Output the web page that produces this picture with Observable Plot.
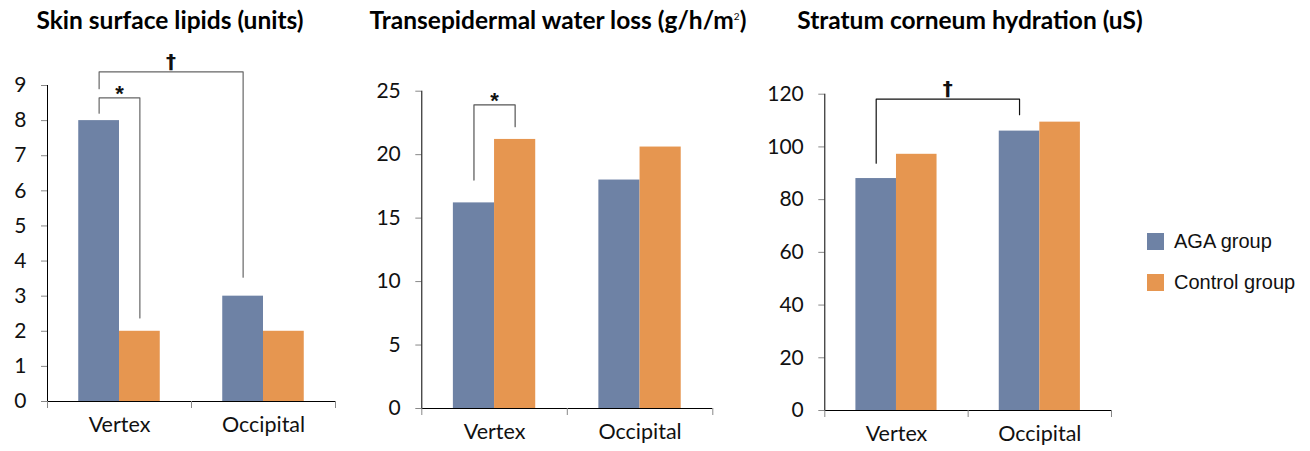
<!DOCTYPE html>
<html><head><meta charset="utf-8">
<script src="https://cdn.jsdelivr.net/npm/d3@7"></script>
<script src="https://cdn.jsdelivr.net/npm/@observablehq/plot@0.6"></script>
<style>
body{margin:0;background:#fff;}
#root{position:relative;width:1310px;height:451px;overflow:hidden;font-family:Lato,"Open Sans",sans-serif;color:#000;}
.title{position:absolute;top:5px;font-weight:bold;font-size:24.5px;white-space:nowrap;transform:translateX(-50%);}
.title sup{font-size:10px;font-weight:normal;vertical-align:9px;}
.legend{position:absolute;left:1147px;font-family:"Liberation Sans",Arial,sans-serif;font-size:20px;color:#111;}
.legend .row{position:absolute;white-space:nowrap;display:flex;align-items:center;}
.legend .sw{width:17px;height:17px;margin-right:10px;}
</style></head><body><div id="root"></div>
<script>
// ---- data ----
const sites = ["Vertex", "Occipital"];
const groups = ["AGA group", "Control group"];
const groupColors = ["#6E82A5", "#E69650"];

const titles = ["Skin surface lipids (units)", "Transepidermal water loss (g/h/m<sup>2</sup>)", "Stratum corneum hydration (uS)"];

const lipidsAGA = [8, 3];
const lipidsControl = [2, 2];
const tewlAGA = [16.2, 18.0];
const tewlControl = [21.2, 20.6];
const hydrationAGA = [88, 106];
const hydrationControl = [97.2, 109.4];

const lipidTicks = [0, 1, 2, 3, 4, 5, 6, 7, 8, 9];
const tewlTicks = [0, 5, 10, 15, 20, 25];
const hydrationTicks = [0, 20, 40, 60, 80, 100, 120];

// significance brackets: endpoints as [site, group]; heights in data units
const lipidBrackets = [
  {from: ["Vertex", "AGA group"], to: ["Occipital", "AGA group"], top: 9.39, fromEnd: 8.91, toEnd: 3.54, label: "†"},
  {from: ["Vertex", "AGA group"], to: ["Vertex", "Control group"], top: 8.65, fromEnd: 8.21, toEnd: 2.38, label: "*"}
];
const tewlBrackets = [
  {from: ["Vertex", "AGA group"], to: ["Vertex", "Control group"], top: 23.93, fromEnd: 18.0, toEnd: 22.2, label: "*"}
];
const hydrationBrackets = [
  {from: ["Vertex", "AGA group"], to: ["Occipital", "AGA group"], top: 118.1, fromEnd: 93.8, toEnd: 112.2, label: "†"}
];

// ---- layout ----
const root = document.getElementById("root");
const G0 = 0.217, GM = 0.5, G1 = 0.783; // group extent within each category band

function center(site, group) {
  const i = sites.indexOf(site);
  return i + (groups.indexOf(group) === 0 ? (G0 + GM) / 2 : (GM + G1) / 2);
}

function panel(cfg) {
  const data = sites.flatMap((s, i) => [
    {site: s, i, group: groups[0], value: cfg.aga[i]},
    {site: s, i, group: groups[1], value: cfg.ctrl[i]}
  ]);
  const pts = cfg.brackets.flatMap((b, k) => {
    const xa = center(...b.from), xb = center(...b.to);
    return [
      {k, x: xa, y: b.fromEnd}, {k, x: xa, y: b.top},
      {k, x: xb, y: b.top}, {k, x: xb, y: b.toEnd}
    ];
  });
  const labels = cfg.brackets.map(b => ({x: (center(...b.from) + center(...b.to)) / 2, y: b.top, label: b.label}));
  const chart = Plot.plot({
    width: cfg.width, height: 406,
    marginLeft: cfg.mL, marginRight: cfg.mR, marginTop: cfg.mT, marginBottom: cfg.mB,
    style: {fontFamily: "Lato, 'Open Sans', sans-serif", fontSize: "21px", color: "#111", background: "transparent", overflow: "visible"},
    x: {domain: [0, sites.length], axis: null},
    y: {domain: [0, cfg.ticks[cfg.ticks.length - 1]], axis: null},
    color: {domain: groups, range: groupColors},
    marks: [
      Plot.rectY(data, {
        x1: d => d.i + (d.group === groups[0] ? G0 : GM),
        x2: d => d.i + (d.group === groups[0] ? GM : G1),
        y1: 0, y2: "value", fill: "group"
      }),
      Plot.axisY({ticks: cfg.ticks, tickSize: 6, tickPadding: 15, stroke: "#888", fill: "#111", fontSize: 21, tickFormat: d => d}),
      Plot.ruleX([0], {stroke: "#000"}),
      Plot.ruleY([0], {stroke: "#000"}),
      Plot.ruleX(d3.range(sites.length + 1), {x: d => d, y1: 0, y2: 0, insetBottom: -7, stroke: "#888"}),
      Plot.text(sites, {x: (d, i) => i + 0.5, frameAnchor: "bottom", dy: 30, text: d => d, fontSize: 21.5, fill: "#111"}),
      Plot.line(pts, {x: "x", y: "y", z: "k", stroke: cfg.bracketColor, strokeWidth: 1.2}),
      Plot.text(labels.filter(d => d.label === "*"), {x: "x", y: "y", text: "label", lineAnchor: "bottom", dy: 3, fontSize: 22, fontWeight: "bold", fontFamily: "'Liberation Sans', Arial, sans-serif", fill: "#111"}),
      Plot.text(labels.filter(d => d.label !== "*"), {x: "x", y: "y", text: "label", lineAnchor: "bottom", dy: -4, fontSize: 20, fontWeight: "bold", fontFamily: "'DejaVu Sans', sans-serif", fill: "#111"})
    ]
  });
  chart.style.left = cfg.left + "px";
  chart.style.position = "absolute";
  chart.style.top = "45px";
  root.appendChild(chart);
}

panel({aga: lipidsAGA, ctrl: lipidsControl, ticks: lipidTicks, brackets: lipidBrackets,
  left: 0, width: 340, mL: 47, mR: 5, mT: 40, mB: 50, bracketColor: "#666"});
panel({aga: tewlAGA, ctrl: tewlControl, ticks: tewlTicks, brackets: tewlBrackets,
  left: 380, width: 340, mL: 41.3, mR: 7.7, mT: 45.7, mB: 43, bracketColor: "#555"});
panel({aga: hydrationAGA, ctrl: hydrationControl, ticks: hydrationTicks, brackets: hydrationBrackets,
  left: 780, width: 340, mL: 44.3, mR: 9, mT: 48.7, mB: 41, bracketColor: "#111"});

const titleCenters = [170, 558, 970];
titles.forEach((t, i) => {
  const d = document.createElement("div");
  d.className = "title";
  d.style.left = titleCenters[i] + "px";
  d.innerHTML = t;
  root.appendChild(d);
});

const legend = document.createElement("div");
legend.className = "legend";
legend.style.top = "0px";
groups.forEach((g, i) => {
  const r = document.createElement("div");
  r.className = "row";
  r.style.top = (231 + i * 41 - 1) + "px";
  r.innerHTML = `<div class="sw" style="background:${groupColors[i]}"></div><span>${g}</span>`;
  legend.appendChild(r);
});
root.appendChild(legend);
</script>
</body></html>
